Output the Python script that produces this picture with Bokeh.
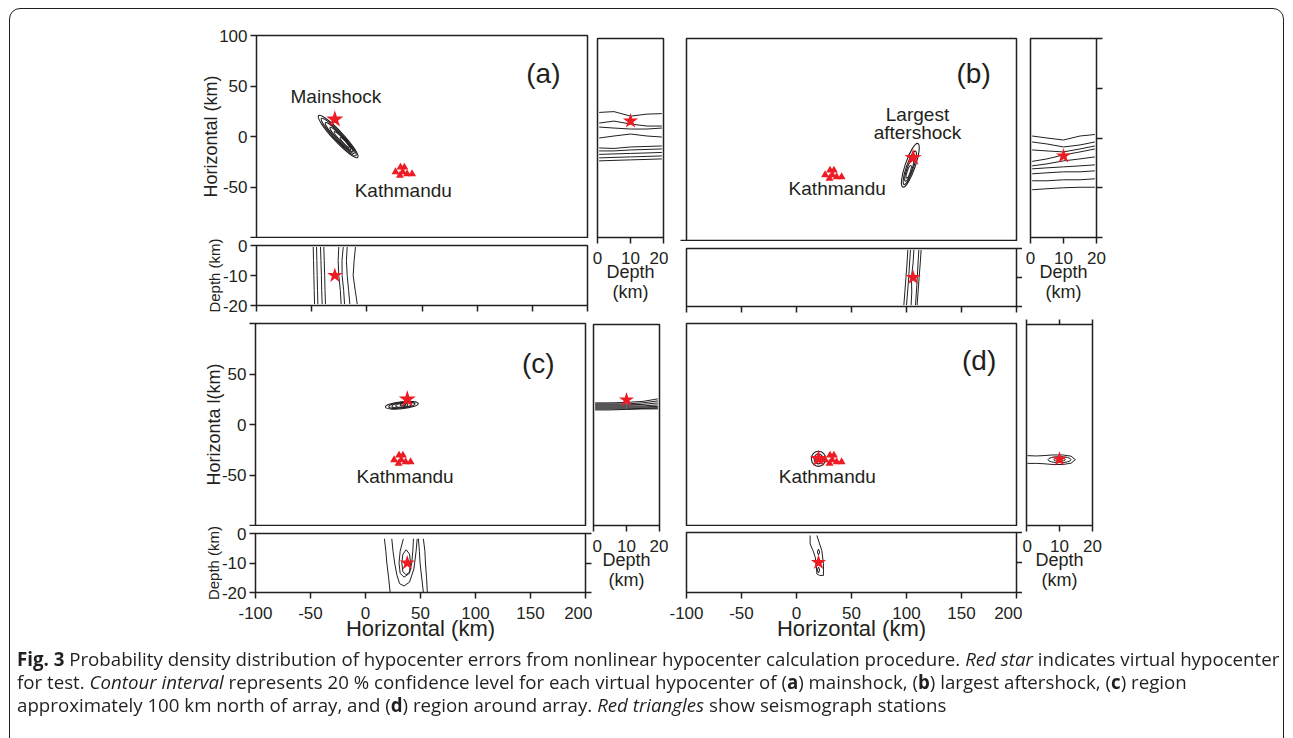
from bokeh.plotting import figure
from bokeh.layouts import row, column
from bokeh.models import FixedTicker, Div, Range1d, LinearAxis, PrintfTickFormatter
from bokeh.embed import file_html
from bokeh.resources import INLINE
from bokeh.core.properties import value

# ---------------- data ----------------
X_TICKS = [-100, -50, 0, 50, 100, 150, 200]
Y_TICKS = [-100, -50, 0, 50, 100]
DEPTH_TICKS = [0, -10, -20]
SIDE_TICKS = [0, 10, 20]

PANEL_TAGS = ["(a)", "(b)", "(c)", "(d)"]
TAG_X = [160, 161, 157, 166]
TAG_Y = [62, 65, 60, 63]

# virtual hypocenters (red stars): horizontal x, horizontal y, depth
HYPO_X = [-29, 106, 38, 20]
HYPO_Y = [17, -18, 25, -34]
HYPO_DEPTH = [10, 10, 10, 10]

# seismograph stations (red triangles)
STATION_X = [26, 30.5, 34, 30, 32.5, 36.5, 41]
STATION_Y = [-35, -30.5, -30.5, -38.5, -35, -37, -37]

CITY_NAME = "Kathmandu"
CITY_X = [33, 37, 36, 28]
CITY_Y = [-53, -49, -51, -51]

EVENT_NAMES = ["Mainshock", "Largest\naftershock"]
EVENT_NAME_X = [-28, 110]
EVENT_NAME_Y = [40, 15.5]

# map-view contours (nested ellipses): centre, width, height, angle (deg)
MAP_A_X = [-26, -25.5, -24.5, -23, -22, -20]
MAP_A_Y = [0, -0.5, -1.5, -3, -4, -6]
MAP_A_W = [52, 46, 38, 30, 22, 12]
MAP_A_H = [10, 8, 6.5, 5, 3.5, 2.5]
MAP_A_ANG = [-47, -47, -47, -47, -47, -47]

MAP_B_X = [103.5, 103, 102.5, 102]
MAP_B_Y = [-25.5, -28, -30, -32]
MAP_B_W = [42, 32, 22, 12]
MAP_B_H = [10, 7, 5, 3]
MAP_B_ANG = [71, 71, 71, 71]

MAP_C_X = [33, 33, 33, 33, 34]
MAP_C_Y = [19, 19, 19, 19, 19.5]
MAP_C_W = [30, 24, 18, 11, 5]
MAP_C_H = [7, 5.5, 4.5, 3.5, 2]
MAP_C_ANG = [6, 6, 6, 6, 6]

MAP_D_X = [20, 20, 20]
MAP_D_Y = [-34, -34, -34]
MAP_D_W = [13, 8, 4]
MAP_D_H = [15, 10, 5]
MAP_D_ANG = [0, 0, 0]

# depth sections (horizontal x vs depth)
DEPTH_LEVELS = [-0.5, -5, -10, -15, -19.5]
DEPTH_A_XS = [
    [-48.6, -48.3, -48.0, -47.7, -47.4],
    [-45.6, -45.3, -45.0, -44.7, -44.4],
    [-42.0, -41.6, -41.2, -40.9, -40.5],
    [-39.0, -38.6, -38.2, -37.9, -37.5],
    [-25.4, -26.0, -25.4, -24.0, -23.3],
    [-21.4, -22.5, -22.4, -21.0, -20.2],
    [-17.8, -18.5, -17.8, -16.5, -15.4],
    [-10.3, -11.5, -12.4, -10.5, -8.7],
]
DEPTH_B_XS = [
    [101.2, 100.5, 99.5, 98.5, 97.6],
    [103.6, 102.8, 102.0, 101.0, 100.0],
    [106.7, 106.0, 104.5, 104.8, 104.2],
    [111.2, 110.5, 109.8, 109.0, 108.2],
    [113.3, 112.5, 111.5, 110.5, 109.7],
]
DEPTH_C_XS = [
    [17.2, 18.5, 19.4, 21.0, 22.4],
    [23.9, 25.0, 26.5, 28.5, 31.0, 35.0, 40.0, 44.0, 46.0, 47.0],
    [34.4, 31.5, 30.5, 31.5, 35.0, 40.0, 42.0, 43.0, 43.6],
    [33.0, 34.0, 37.0, 40.0, 41.0, 40.0, 37.0, 34.0, 33.0],
    [48.1, 49.0, 49.6, 50.5, 52.6],
    [52.6, 54.0, 54.5, 55.5, 56.2],
]
DEPTH_C_ZS = [
    [-1.8, -6, -10, -15, -19.9],
    [-1.8, -6, -10, -14, -17, -17.8, -16.5, -12, -6, -1.8],
    [-1.8, -6, -10, -13.5, -14.8, -13.5, -10, -6, -1.8],
    [-10, -7, -5.5, -7, -10, -13, -14, -13, -10],
    [-1.8, -6, -10, -13, -19.9],
    [-1.8, -6, -10, -15, -19.9],
]
DEPTH_D_XS = [
    [12.4, 12.4, 15.0, 17.0, 18.0, 18.5, 21.0, 24.5, 24.5, 23.0, 21.0, 18.5],
    [19.0, 20.0, 21.0, 20.0, 19.0],
    [19.0, 20.0, 21.0, 20.0, 19.0],
]
DEPTH_D_ZS = [
    [-1.0, -3.8, -6.0, -8.2, -11.0, -13.8, -14.3, -14.3, -10.4, -6.0, -3.8, -1.0],
    [-6.5, -5.5, -6.5, -7.5, -6.5],
    [-12.5, -11.5, -12.5, -13.5, -12.5],
]

# side sections (depth vs horizontal y)
SIDE_LEVELS = [0.5, 5, 10, 15, 19.5]
SIDE_A_YS = [
    [25.7, 26.5, 22.0, 24.0, 24.5],
    [15.0, 17.0, 14.0, 12.0, 12.0],
    [11.0, 10.0, 9.0, 9.0, 10.0],
    [0.0, 2.0, 4.0, 2.0, 1.0],
    [-10.0, -10.5, -9.0, -8.5, -8.0],
    [-13.0, -13.0, -12.0, -11.5, -11.0],
    [-16.5, -16.0, -15.5, -15.0, -14.5],
    [-20.0, -19.5, -19.0, -18.5, -18.0],
    [-23.0, -22.5, -22.0, -21.5, -21.0],
]
SIDE_B_YS = [
    [2.0, 0.0, -2.0, 2.0, 3.5],
    [-4.0, -6.0, -9.0, -7.0, -4.0],
    [-12.0, -13.0, -14.0, -11.0, -8.0],
    [-23.5, -21.0, -17.0, -14.0, -11.0],
    [-28.0, -26.0, -23.0, -21.0, -19.0],
    [-31.0, -30.0, -29.0, -28.0, -27.0],
    [-36.0, -35.0, -34.0, -34.0, -33.0],
    [-43.0, -43.0, -42.0, -42.0, -41.0],
    [-52.0, -51.0, -50.0, -49.5, -49.5],
]
SIDE_C_YS = [
    [22.0, 22.0, 22.5, 23.5, 26.0],
    [21.0, 21.0, 21.0, 22.0, 24.0],
    [20.0, 20.0, 20.0, 20.5, 22.0],
    [19.0, 19.0, 19.0, 19.0, 20.0],
    [18.0, 18.0, 18.0, 18.0, 18.5],
    [17.0, 17.0, 17.0, 17.0, 17.0],
    [16.0, 16.0, 16.0, 16.5, 17.0],
    [15.0, 15.0, 15.5, 16.0, 16.0],
]
SIDE_D_XS = [[0.3, 3.0, 5.0, 8.0, 11.0, 13.5, 14.8, 13.5, 11.0, 8.0, 5.0, 3.0, 0.3]]
SIDE_D_YS = [[-30.5, -30.8, -30.5, -29.8, -29.8, -31.0, -34.5, -38.0, -39.3, -39.3, -38.5, -38.2, -38.2]]
SIDE_D_ELL_X = [10, 10]
SIDE_D_ELL_Y = [-34.5, -34.5]
SIDE_D_ELL_W = [7, 3.5]
SIDE_D_ELL_H = [6, 3]

# ---------------- styling helpers ----------------
INK = "#231f20"
RED = "#ed1c24"
FONT = "Liberation Sans"


def base_fig(w, h, xr, yr, left, right, top, bottom):
    p = figure(width=w, height=h, x_range=Range1d(*xr), y_range=Range1d(*yr),
               output_backend="svg", toolbar_location=None,
               x_axis_location=None, y_axis_location=None,
               min_border_left=left, min_border_right=right,
               min_border_top=top, min_border_bottom=bottom)
    p.grid.grid_line_color = None
    p.outline_line_color = INK
    p.outline_line_width = 1.5
    p.background_fill_color = "white"
    p.border_fill_color = None
    return p


def add_axis(p, side, ticks, labels=True, overrides=None, label=None,
             tick_size="17px", label_size="18px", label_standoff=0,
             tick_standoff=3, tick_out=6):
    ax = LinearAxis(ticker=FixedTicker(ticks=ticks),
                    formatter=PrintfTickFormatter(format="%d"))
    ax.major_tick_out = tick_out
    ax.major_tick_in = 0
    ax.minor_tick_line_color = None
    ax.major_tick_line_color = INK
    ax.major_tick_line_width = 1.5
    ax.axis_line_color = None
    if labels:
        ax.major_label_text_font = FONT
        ax.major_label_text_font_size = tick_size
        ax.major_label_text_color = INK
        ax.major_label_standoff = tick_standoff
        if overrides:
            ax.major_label_overrides = overrides
    else:
        ax.major_label_text_font_size = "1px"
        ax.major_label_text_color = None
        ax.major_label_standoff = 0
    if label:
        ax.axis_label = label
        ax.axis_label_text_font = FONT
        ax.axis_label_text_font_size = label_size
        ax.axis_label_text_font_style = "normal"
        ax.axis_label_text_color = INK
        ax.axis_label_standoff = label_standoff
        ax.axis_label_text_line_height = 1.0
    p.add_layout(ax, side)
    return ax


def draw_map(p, i, ex, ey, ew, eh, ea):
    p.ellipse(x=ex, y=ey, width=ew, height=eh, angle=ea, angle_units="deg",
              fill_color=None, line_color=INK, line_width=1.1)
    p.scatter(x=STATION_X, y=STATION_Y, marker="triangle", size=8,
              fill_color=RED, line_color=None)
    p.scatter(x=[HYPO_X[i]], y=[HYPO_Y[i]], marker="star", size=18,
              fill_color=RED, line_color=None)
    p.text(x=[CITY_X[i]], y=[CITY_Y[i]], text=[CITY_NAME], text_font=value(FONT),
           text_font_size="19px", text_align="center", text_baseline="middle",
           text_color=INK)
    p.text(x=[TAG_X[i]], y=[TAG_Y[i]], text=[PANEL_TAGS[i]], text_font=value(FONT),
           text_font_size="28px", text_align="center", text_baseline="middle",
           text_color=INK)


def draw_depth(p, i, xs, zs):
    p.multi_line(xs=xs, ys=zs, line_color=INK, line_width=1)
    p.scatter(x=[HYPO_X[i]], y=[-HYPO_DEPTH[i]], marker="star", size=16,
              fill_color=RED, line_color=None)


def draw_side(p, i, xs, ys):
    p.multi_line(xs=xs, ys=ys, line_color=INK, line_width=1)
    p.scatter(x=[HYPO_DEPTH[i]], y=[HYPO_Y[i]], marker="star", size=16,
              fill_color=RED, line_color=None)


def side_axis(p):
    add_axis(p, "below", SIDE_TICKS, label="Depth\n(km)", label_size="18px",
             label_standoff=-5, tick_standoff=8)


def depth_label_axis(p):
    add_axis(p, "left", DEPTH_TICKS, label="Depth (km)", label_size="15px",
             label_standoff=-3)


def bottom_x_axis(p):
    add_axis(p, "below", X_TICKS, label="Horizontal (km)", label_size="22px",
             label_standoff=-6, tick_standoff=8)


XR = (-100, 200)
YR = (-100, 100)
ZR = (-20, 0)
SR = (0, 20)

# ---------------- (a) ----------------
fA = base_fig(592, 238, XR, YR, 256, 5, 35, 1)
add_axis(fA, "left", Y_TICKS, overrides={-100: ""}, label="Horizontal (km)",
         label_standoff=-5)
draw_map(fA, 0, MAP_A_X, MAP_A_Y, MAP_A_W, MAP_A_H, MAP_A_ANG)
fA.text(x=[EVENT_NAME_X[0]], y=[EVENT_NAME_Y[0]], text=[EVENT_NAMES[0]],
        text_font=value(FONT), text_font_size="19px", text_align="center",
        text_baseline="middle", text_color=INK)

fAd = base_fig(592, 80, XR, ZR, 256, 5, 7, 13)
depth_label_axis(fAd)
add_axis(fAd, "below", X_TICKS, labels=False)
draw_depth(fAd, 0, DEPTH_A_XS, [DEPTH_LEVELS] * len(DEPTH_A_XS))

fAs = base_fig(76, 318, SR, YR, 5, 5, 35, 81)
side_axis(fAs)
draw_side(fAs, 0, [SIDE_LEVELS] * len(SIDE_A_YS), SIDE_A_YS)

# ---------------- (b) ----------------
fB = base_fig(354, 241, XR, YR, 18, 5, 38, 1)
add_axis(fB, "left", [-100], labels=False)
draw_map(fB, 1, MAP_B_X, MAP_B_Y, MAP_B_W, MAP_B_H, MAP_B_ANG)
fB.text(x=[EVENT_NAME_X[1]], y=[EVENT_NAME_Y[1]], text=[EVENT_NAMES[1]],
        text_font=value(FONT), text_font_size="19px", text_align="center",
        text_baseline="middle", text_color=INK, text_line_height=0.85)

fBd = base_fig(354, 77, XR, ZR, 18, 6, 7, 12)
add_axis(fBd, "right", DEPTH_TICKS, labels=False)
add_axis(fBd, "below", X_TICKS, labels=False)
draw_depth(fBd, 1, DEPTH_B_XS, [DEPTH_LEVELS] * len(DEPTH_B_XS))

fBs = base_fig(271, 318, SR, YR, 8, 197, 38, 78)
add_axis(fBs, "right", Y_TICKS, labels=False)
side_axis(fBs)
draw_side(fBs, 1, [SIDE_LEVELS] * len(SIDE_B_YS), SIDE_B_YS)

# ---------------- (c) ----------------
fC = base_fig(592, 208, XR, YR, 255, 6, 5, 1)
add_axis(fC, "left", Y_TICKS, overrides={-100: "", 100: ""}, label="Horizonta l(km)",
         label_standoff=-5)
draw_map(fC, 2, MAP_C_X, MAP_C_Y, MAP_C_W, MAP_C_H, MAP_C_ANG)

fCd = base_fig(592, 120, XR, ZR, 255, 7, 7, 54)
depth_label_axis(fCd)
add_axis(fCd, "right", DEPTH_TICKS, labels=False)
bottom_x_axis(fCd)
draw_depth(fCd, 2, DEPTH_C_XS, DEPTH_C_ZS)

fCs = base_fig(76, 328, SR, YR, 1, 9, 5, 121)
side_axis(fCs)
draw_side(fCs, 2, [SIDE_LEVELS] * len(SIDE_C_YS), SIDE_C_YS)

# ---------------- (d) ----------------
fD = base_fig(354, 208, XR, YR, 18, 5, 5, 1)
draw_map(fD, 3, MAP_D_X, MAP_D_Y, MAP_D_W, MAP_D_H, MAP_D_ANG)

fDd = base_fig(354, 120, XR, ZR, 18, 6, 6, 54)
add_axis(fDd, "right", DEPTH_TICKS, labels=False)
bottom_x_axis(fDd)
draw_depth(fDd, 3, DEPTH_D_XS, DEPTH_D_ZS)

fDs = base_fig(271, 328, SR, YR, 4, 201, 6, 121)
add_axis(fDs, "above", SIDE_TICKS, labels=False, tick_out=5)
side_axis(fDs)
fDs.multi_line(xs=SIDE_D_XS, ys=SIDE_D_YS, line_color=INK, line_width=1)
fDs.ellipse(x=SIDE_D_ELL_X, y=SIDE_D_ELL_Y, width=SIDE_D_ELL_W, height=SIDE_D_ELL_H,
            fill_color=None, line_color=INK, line_width=1)
fDs.scatter(x=[HYPO_DEPTH[3]], y=[HYPO_Y[3]], marker="star", size=16,
            fill_color=RED, line_color=None)

# ---------------- caption ----------------
CAPTION_LINES = [
    "<b>Fig. 3</b> Probability density distribution of hypocenter errors from nonlinear "
    "hypocenter calculation procedure. <i>Red star</i> indicates virtual hypocenter",
    "for test. <i>Contour interval</i> represents 20 % confidence level for each virtual "
    "hypocenter of (<b>a</b>) mainshock, (<b>b</b>) largest aftershock, (<b>c</b>) region",
    "approximately 100 km north of array, and (<b>d</b>) region around array. "
    "<i>Red triangles</i> show seismograph stations",
]
caption_html = (
    '<div style="position:fixed;left:9px;top:8px;width:1275px;height:780px;'
    'border:1.3px solid #231f20;border-radius:11px;pointer-events:none;"></div>'
    '<div style="position:relative;top:-4px;font-family:\'Open Sans\';font-size:18.7px;'
    'line-height:23px;color:#231f20;padding:0 0 0 12px;white-space:nowrap;">'
    + "<br>".join(CAPTION_LINES) + "</div>"
)
caption = Div(text=caption_html, width=1293, height=92)

top = row(column(fA, fAd), fAs, column(fB, fBd), fBs)
bottom = row(column(fC, fCd), fCs, column(fD, fDd), fDs)
layout = column(top, bottom, caption)

open("out.html", "w").write(file_html(layout, INLINE))
